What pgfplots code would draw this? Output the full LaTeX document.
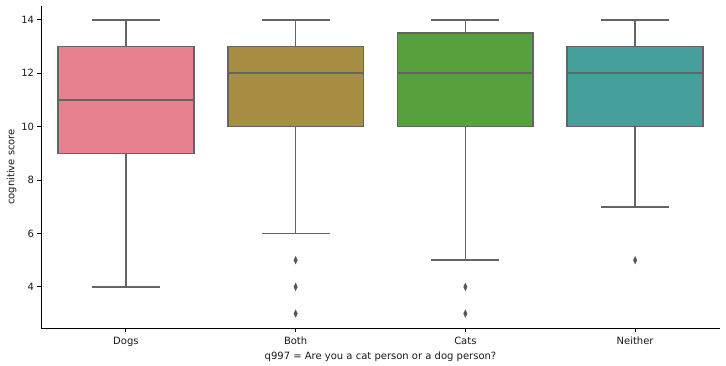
\documentclass[border=0pt]{standalone}
\usepackage{pgfplots}
\pgfplotsset{compat=1.18}
\usepackage{fontspec}
\setmainfont{DejaVu Sans}
\definecolor{cDogs}{HTML}{E7808F}
\definecolor{cBoth}{HTML}{A88E42}
\definecolor{cCats}{HTML}{56A03D}
\definecolor{cNeither}{HTML}{45A09B}
\definecolor{lgray}{HTML}{646464}
\begin{document}
\begin{tikzpicture}[font=\fontsize{10bp}{12bp}\selectfont]
\begin{axis}[
  name=ax,
  scale only axis,
  width=679bp, height=322bp,
  xmin=-0.5, xmax=3.5,
  ymin=2.46, ymax=14.52,
  axis lines*=left,
  axis line style={-, black, line width=0.8bp},
  xtick={0,1,2,3},
  xticklabels={Dogs,Both,Cats,Neither},
  ytick={4,6,8,10,12,14},
  tick align=outside,
  major tick length=3.5bp,
  tick style={black, line width=0.8bp},
  /pgf/number format/assume math mode=true,
  xlabel={q997 = Are you a cat person or a dog person?},
  ylabel={cognitive score},
  xlabel style={yshift=1.5bp},
  ylabel style={yshift=-2bp},
  xticklabel style={yshift=-2bp},
  tick label style={font=\fontsize{10bp}{12bp}\selectfont, text=black!90},
  label style={font=\fontsize{10bp}{12bp}\selectfont, text=black!90},
  clip=false,
  ln/.style={draw=lgray, line width=1.6bp, mark=none, line join=miter},
]
% Dogs: whiskers 4-14, box 9-13, median 11
\addplot[ln, fill=cDogs] coordinates {(-0.4,9) (0.4,9) (0.4,13) (-0.4,13)} -- cycle;
\addplot[ln] coordinates {(-0.4,11) (0.4,11)};
\addplot[ln] coordinates {(0,13) (0,14)};
\addplot[ln] coordinates {(0,9) (0,4)};
\addplot[ln] coordinates {(-0.2,14) (0.2,14)};
\addplot[ln] coordinates {(-0.2,4) (0.2,4)};
% Both: whiskers 6-14, box 10-13, median 12
\addplot[ln, fill=cBoth] coordinates {(0.6,10) (1.4,10) (1.4,13) (0.6,13)} -- cycle;
\addplot[ln] coordinates {(0.6,12) (1.4,12)};
\addplot[ln] coordinates {(1,13) (1,14)};
\addplot[ln] coordinates {(1,10) (1,6)};
\addplot[ln] coordinates {(0.8,14) (1.2,14)};
\addplot[ln] coordinates {(0.8,6) (1.2,6)};
% Cats: whiskers 5-14, box 10-13.5, median 12
\addplot[ln, fill=cCats] coordinates {(1.6,10) (2.4,10) (2.4,13.5) (1.6,13.5)} -- cycle;
\addplot[ln] coordinates {(1.6,12) (2.4,12)};
\addplot[ln] coordinates {(2,13.5) (2,14)};
\addplot[ln] coordinates {(2,10) (2,5)};
\addplot[ln] coordinates {(1.8,14) (2.2,14)};
\addplot[ln] coordinates {(1.8,5) (2.2,5)};
% Neither: whiskers 7-14, box 10-13, median 12
\addplot[ln, fill=cNeither] coordinates {(2.6,10) (3.4,10) (3.4,13) (2.6,13)} -- cycle;
\addplot[ln] coordinates {(2.6,12) (3.4,12)};
\addplot[ln] coordinates {(3,13) (3,14)};
\addplot[ln] coordinates {(3,10) (3,7)};
\addplot[ln] coordinates {(2.8,14) (3.2,14)};
\addplot[ln] coordinates {(2.8,7) (3.2,7)};
% outliers
\addplot[only marks, mark=diamond*, mark size=3.8bp, mark options={xscale=0.62, fill=lgray!85!black, draw=lgray!85!black, line width=0.3bp}]
  coordinates {(1,5) (1,4) (1,3) (2,4) (2,3) (3,5)};
\end{axis}
\pgfresetboundingbox
\path ([shift={(-41bp,-38bp)}]ax.south west) rectangle ([shift={(6bp,6bp)}]ax.north east);
\end{tikzpicture}
\end{document}
